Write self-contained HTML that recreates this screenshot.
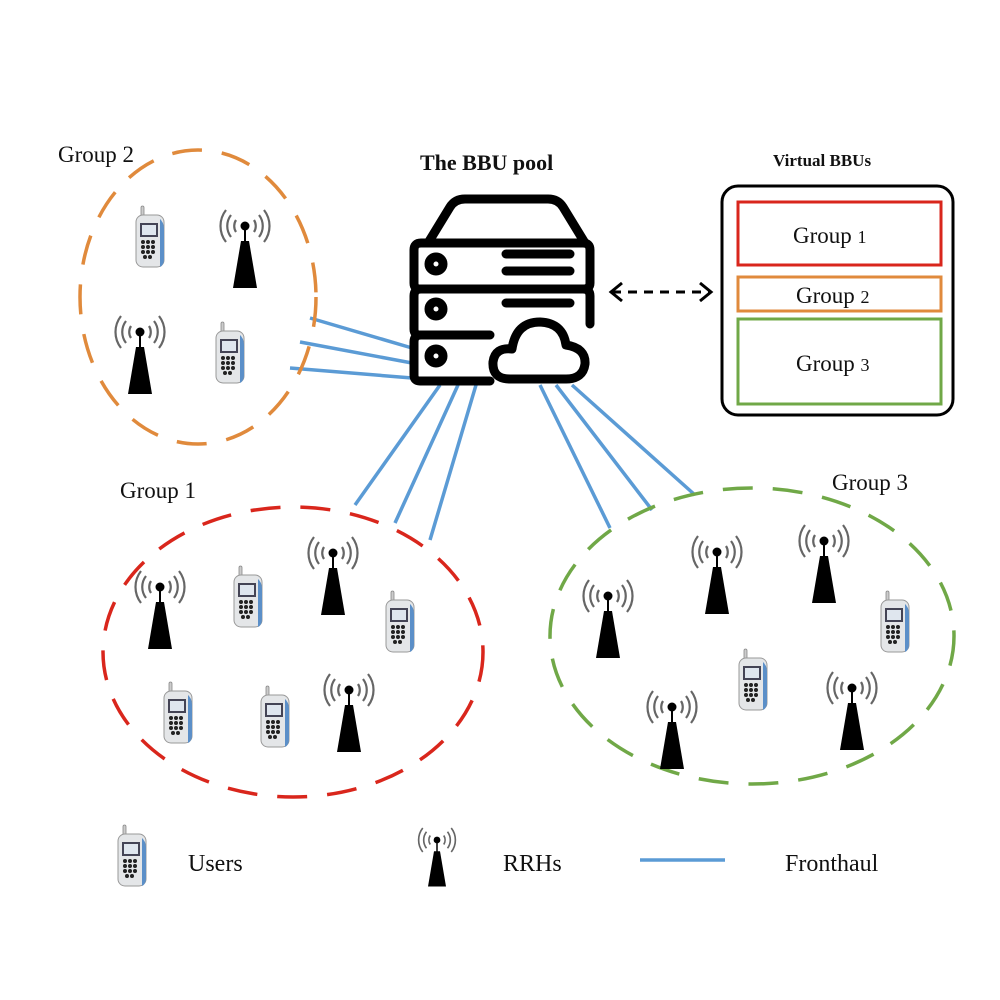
<!DOCTYPE html>
<html><head><meta charset="utf-8"><style>
html,body{margin:0;padding:0;background:#fff}
svg{display:block}
text{font-family:"Liberation Serif",serif;fill:#111}
</style></head><body>
<svg width="1000" height="1000" viewBox="0 0 1000 1000">
<defs>
<g id="tower">
  <path d="M-9,-6 A11,11 0 0 0 -9,6 M9,-6 A11,11 0 0 1 9,6 M-14,-11 A18,18 0 0 0 -14,11 M14,-11 A18,18 0 0 1 14,11 M-19,-16 A26,26 0 0 0 -19,16 M19,-16 A26,26 0 0 1 19,16" fill="none" stroke="#666" stroke-width="2.2"/>
  <line x1="0" y1="0" x2="0" y2="16" stroke="#000" stroke-width="2"/>
  <circle cx="0" cy="0" r="4.5" fill="#000"/>
  <path d="M-4,15 L4,15 L12,62 L-12,62 Z" fill="#000"/>
</g>
<g id="phone">
  <rect x="-9" y="-31" width="3" height="12" rx="1.5" fill="#ccc" stroke="#888" stroke-width="0.8"/>
  <rect x="-14" y="-22" width="28" height="52" rx="7" fill="#e4e6e8" stroke="#999" stroke-width="1"/>
  <path d="M9,-19 Q14,-15 14,-8 L14,22 Q14,28 10,30 L10,-18 Z" fill="#5b8fc8"/>
  <rect x="-10" y="-14" width="18" height="14" fill="#445" />
  <rect x="-8" y="-12" width="14" height="10" fill="#dfe6ee"/>
  <g fill="#222">
    <circle cx="-7" cy="5" r="2"/><circle cx="-2" cy="5" r="2"/><circle cx="3" cy="5" r="2"/>
    <circle cx="-7" cy="10" r="2"/><circle cx="-2" cy="10" r="2"/><circle cx="3" cy="10" r="2"/>
    <circle cx="-7" cy="15" r="2"/><circle cx="-2" cy="15" r="2"/><circle cx="3" cy="15" r="2"/>
    <circle cx="-5" cy="20" r="2"/><circle cx="0" cy="20" r="2"/>
  </g>
</g>
</defs>

<!-- fronthaul -->
<g stroke="#5b9bd5" stroke-width="3.5">
  <line x1="310" y1="318" x2="412" y2="348"/>
  <line x1="300" y1="342" x2="412" y2="363"/>
  <line x1="290" y1="368" x2="412" y2="378"/>
  <line x1="355" y1="505" x2="440" y2="385"/>
  <line x1="395" y1="523" x2="458" y2="385"/>
  <line x1="430" y1="540" x2="476" y2="385"/>
  <line x1="540" y1="385" x2="610" y2="528"/>
  <line x1="556" y1="385" x2="652" y2="510"/>
  <line x1="572" y1="385" x2="695" y2="495"/>
</g>

<!-- groups -->
<ellipse cx="198" cy="297" rx="118" ry="147" fill="none" stroke="#e08a3c" stroke-width="3.5" stroke-dasharray="30 20"/>
<ellipse cx="293" cy="652" rx="190" ry="145" fill="none" stroke="#d9261c" stroke-width="3.5" stroke-dasharray="30 20"/>
<ellipse cx="752" cy="636" rx="202" ry="148" fill="none" stroke="#70a847" stroke-width="3.5" stroke-dasharray="30 20"/>

<text x="58" y="162" font-size="23">Group 2</text>
<text x="120" y="498" font-size="23">Group 1</text>
<text x="832" y="490" font-size="23">Group 3</text>

<!-- towers -->
<g>
<use href="#tower" x="245" y="226"/>
<use href="#tower" x="140" y="332"/>
<use href="#tower" x="160" y="587"/>
<use href="#tower" x="333" y="553"/>
<use href="#tower" x="349" y="690"/>
<use href="#tower" x="608" y="596"/>
<use href="#tower" x="717" y="552"/>
<use href="#tower" x="824" y="541"/>
<use href="#tower" x="672" y="707"/>
<use href="#tower" x="852" y="688"/>
</g>
<g>
<use href="#phone" x="150" y="237"/>
<use href="#phone" x="230" y="353"/>
<use href="#phone" x="248" y="597"/>
<use href="#phone" x="400" y="622"/>
<use href="#phone" x="178" y="713"/>
<use href="#phone" x="275" y="717"/>
<use href="#phone" x="895" y="622"/>
<use href="#phone" x="753" y="680"/>
</g>

<!-- server -->
<text x="420" y="170" font-size="22" font-weight="bold">The BBU pool</text>
<g fill="none" stroke="#000" stroke-width="9" stroke-linecap="round" stroke-linejoin="round">
  <path d="M428,243 L450,207 Q455,199 465,199 L548,199 Q558,199 563,207 L585,243"/>
  <path d="M480,289 L420,289 Q414,289 414,283 L414,250 Q414,243 421,243 L583,243 Q590,243 590,250 L590,283 Q590,289 583,289 L420,289"/>
  <path d="M490,335 L420,335 Q414,335 414,329 L414,296 Q414,289 421,289 L583,289 Q590,289 590,296 L590,324"/>
  <path d="M490,381 L420,381 Q414,381 414,375 L414,342 Q414,335 421,335 L488,335"/>
  <circle cx="436" cy="264" r="7"/><circle cx="436" cy="309" r="7"/><circle cx="436" cy="356" r="7"/>
  <line x1="506" y1="254" x2="570" y2="254"/><line x1="506" y1="271" x2="570" y2="271"/>
  <line x1="506" y1="303" x2="570" y2="303"/>
  <path d="M510,379 Q492,379 493,362 Q495,347 512,349 Q516,322 540,322 Q563,323 566,345 Q586,348 585,364 Q583,379 566,379 Z"/>
</g>

<!-- arrow -->
<g stroke="#000" stroke-width="3" fill="none">
  <line x1="612" y1="292" x2="710" y2="292" stroke-dasharray="9 7"/>
  <path d="M622,283 L611,292 L622,301"/>
  <path d="M700,283 L711,292 L700,301"/>
</g>

<!-- virtual BBUs -->
<text x="773" y="166" font-size="17" font-weight="bold">Virtual BBUs</text>
<rect x="722" y="186" width="231" height="229" rx="16" fill="#fff" stroke="#000" stroke-width="3"/>
<rect x="738" y="202" width="203" height="63" fill="none" stroke="#d9261c" stroke-width="3"/>
<rect x="738" y="277" width="203" height="34" fill="none" stroke="#e08a3c" stroke-width="3"/>
<rect x="738" y="319" width="203" height="85" fill="none" stroke="#70a847" stroke-width="3"/>
<text x="793" y="243" font-size="23">Group  <tspan font-size="18">1</tspan></text>
<text x="796" y="303" font-size="23">Group <tspan font-size="18">2</tspan></text>
<text x="796" y="371" font-size="23">Group <tspan font-size="18">3</tspan></text>

<!-- legend -->
<g>
  <use href="#phone" x="132" y="856"/>
  <text x="188" y="871" font-size="24">Users</text>
  <use href="#tower" x="437" y="840" transform="translate(437,840) scale(0.75) translate(-437,-840)"/>
  <text x="503" y="871" font-size="24">RRHs</text>
  <line x1="640" y1="860" x2="725" y2="860" stroke="#5b9bd5" stroke-width="3.5"/>
  <text x="785" y="871" font-size="24">Fronthaul</text>
</g>
</svg>
</body></html>
